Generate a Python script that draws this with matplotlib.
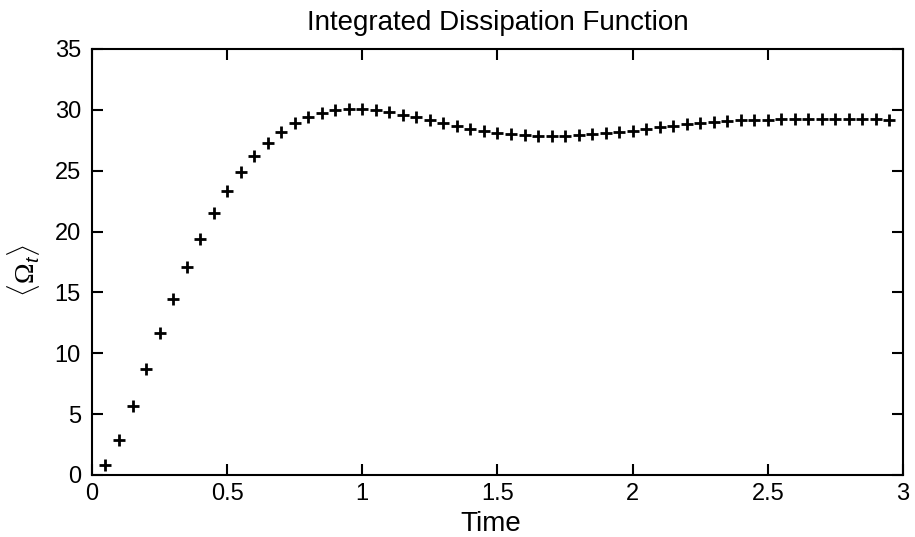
import matplotlib
matplotlib.use('Agg')

import numpy as np
import matplotlib.pyplot as plt

plt.rcParams['font.family'] = ['Liberation Sans', 'DejaVu Sans']
plt.rcParams['mathtext.fontset'] = 'custom'
plt.rcParams['mathtext.rm'] = 'Liberation Serif'
plt.rcParams['mathtext.it'] = 'Liberation Sans:italic'

# 数据: 时间与积分耗散函数
time = [0.05, 0.10, 0.15, 0.20, 0.25, 0.30, 0.35, 0.40, 0.45, 0.50,
        0.55, 0.60, 0.65, 0.70, 0.75, 0.80, 0.85, 0.90, 0.95, 1.00,
        1.05, 1.10, 1.15, 1.20, 1.25, 1.30, 1.35, 1.40, 1.45, 1.50,
        1.55, 1.60, 1.65, 1.70, 1.75, 1.80, 1.85, 1.90, 1.95, 2.00,
        2.05, 2.10, 2.15, 2.20, 2.25, 2.30, 2.35, 2.40, 2.45, 2.50,
        2.55, 2.60, 2.65, 2.70, 2.75, 2.80, 2.85, 2.90, 2.95]
omega = [0.82, 2.88, 5.67, 8.68, 11.7, 14.46, 17.1, 19.4, 21.5, 23.3,
         24.87, 26.2, 27.3, 28.2, 28.88, 29.4, 29.75, 29.95, 30.05, 30.05,
         29.95, 29.8, 29.6, 29.4, 29.2, 28.95, 28.7, 28.45, 28.3, 28.13,
         28.0, 27.9, 27.85, 27.85, 27.88, 27.95, 28.0, 28.1, 28.18, 28.3,
         28.4, 28.55, 28.7, 28.82, 28.9, 29.0, 29.08, 29.13, 29.18, 29.2,
         29.23, 29.25, 29.25, 29.25, 29.25, 29.25, 29.23, 29.22, 29.2]

fig = plt.figure(figsize=(9.15, 5.37), dpi=100)
ax = fig.add_axes([0.1005, 0.1155, 0.8864, 0.7933])

ax.plot(time, omega, linestyle='none', marker='+', color='black',
        markersize=8, markeredgewidth=2)

ax.set_xlim(0, 3)
ax.set_ylim(0, 35)
ax.set_xticks([0, 0.5, 1, 1.5, 2, 2.5, 3])
ax.set_xticklabels(['0', '0.5', '1', '1.5', '2', '2.5', '3'])
ax.set_yticks(range(0, 36, 5))

ax.tick_params(direction='in', length=8, width=1.5, top=True, right=True,
               labelsize=17)
ax.tick_params(axis='x', pad=6)
ax.tick_params(axis='y', pad=8)
for s in ax.spines.values():
    s.set_linewidth(1.5)

ax.set_title('Integrated Dissipation Function', fontsize=20, pad=14)
ax.set_xlabel('Time', fontsize=20)
ax.set_ylabel(r'$\langle\Omega_t\rangle$', fontsize=20)
ax.xaxis.set_label_coords(0.5 - 0.008, -0.085)
ax.yaxis.set_label_coords(-0.062, 0.5 - 0.02)

fig.savefig('out.png', dpi=100)
